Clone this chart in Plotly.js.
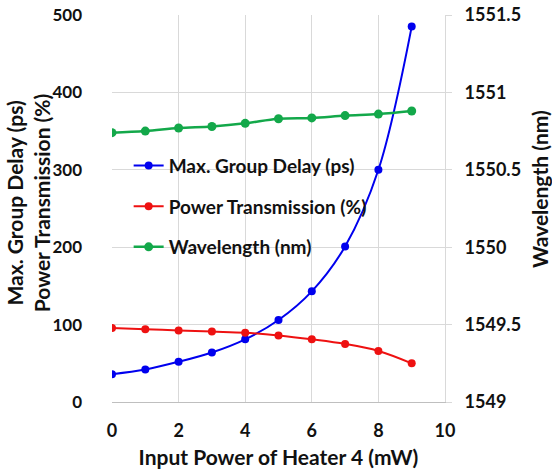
<!DOCTYPE html>
<html><head><meta charset="utf-8">
<script src="https://cdn.plot.ly/plotly-3.0.1.min.js"></script>
<style>body{margin:0;background:#fff}#chart{width:552px;height:472px}</style>
</head><body><div id="chart"></div>
<script>
const heaterPower = [0, 1, 2, 3, 4, 5, 6, 7, 8, 9];
const groupDelay = [36, 42, 52, 64, 81, 106, 143, 201, 300, 485];
const powerTransmission = [95.5, 94, 92.5, 91, 89.5, 86, 81, 75, 66, 50];
const wavelength = [1550.74, 1550.75, 1550.77, 1550.78, 1550.80, 1550.83, 1550.835, 1550.85, 1550.86, 1550.88];

const font = "Lato, 'Open Sans', sans-serif";
const bold = {family: font, color: '#111', weight: 'bold'};
const traces = [
  {x: heaterPower, y: groupDelay, name: 'Max. Group Delay (ps)', mode: 'lines+markers', legendgroup: 'a',
   line: {color: '#0000ee', width: 2, shape: 'spline'}, marker: {color: '#0000ee', size: 8}},
  {x: heaterPower, y: powerTransmission, name: 'Power Transmission (%)', mode: 'lines+markers', legendgroup: 'b',
   line: {color: '#ee1111', width: 2, shape: 'spline'}, marker: {color: '#ee1111', size: 8}},
  {x: heaterPower, y: wavelength, name: 'Wavelength (nm)', mode: 'lines+markers', yaxis: 'y2', legendgroup: 'c',
   line: {color: '#13a84a', width: 2.5, shape: 'spline'}, marker: {color: '#13a84a', size: 9}}
];
const layout = {
  width: 552, height: 472,
  margin: {l: 112, r: 107, t: 15, b: 70},
  paper_bgcolor: '#fff', plot_bgcolor: '#fff',
  font: {family: font, size: 17, color: '#111'},
  showlegend: true,
  legend: {x: 0.05, y: 0.66, xanchor: 'left', yanchor: 'top', bgcolor: 'rgba(0,0,0,0)',
    font: Object.assign({size: 19}, bold), traceorder: 'grouped', tracegroupgap: 13, itemwidth: 30},
  xaxis: {range: [0, 10], dtick: 2, tick0: 0, showgrid: true, gridcolor: '#d9d9d9', zeroline: false,
    showline: true, linecolor: '#bfbfbf', ticks: '', ticklabelstandoff: 12,
    tickfont: Object.assign({size: 18}, bold),
    title: {text: 'Input Power of Heater 4 (mW)', standoff: 10, font: Object.assign({size: 21}, bold)}},
  yaxis: {range: [0, 500], dtick: 100, showgrid: true, gridcolor: '#d9d9d9', zeroline: false,
    showline: false, ticks: '', ticklabelstandoff: 29,
    tickfont: Object.assign({size: 17}, bold)},
  yaxis2: {range: [1549, 1551.5], dtick: 0.5, overlaying: 'y', side: 'right', showgrid: false, zeroline: false,
    showline: true, linecolor: '#d9d9d9', ticks: 'outside', ticklen: 6, tickcolor: '#d9d9d9', ticklabelstandoff: 9,
    tickformat: '~g', tickfont: Object.assign({size: 18}, bold)},
  annotations: [
    {text: 'Max. Group Delay (ps)<br>Power Transmission (%)', xref: 'paper', yref: 'paper', x: -0.252, y: 0.514,
     xanchor: 'center', yanchor: 'middle', textangle: -90, showarrow: false, font: Object.assign({size: 21}, bold)},
    {text: 'Wavelength (nm)', xref: 'paper', yref: 'paper', x: 1.282, y: 0.55,
     xanchor: 'center', yanchor: 'middle', textangle: -90, showarrow: false, font: Object.assign({size: 21}, bold)}
  ]
};
Plotly.newPlot('chart', traces, layout, {displayModeBar: false, staticPlot: true});
</script></body></html>
